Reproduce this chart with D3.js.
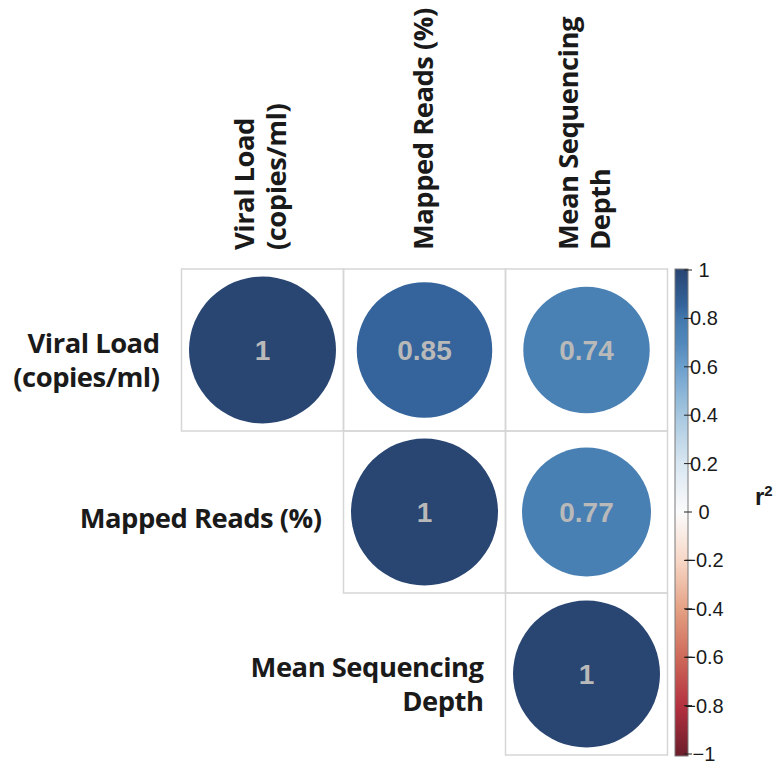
<!DOCTYPE html>
<html>
<head>
<meta charset="utf-8">
<script src="https://cdn.jsdelivr.net/npm/d3@7"></script>
<style>
  body { margin: 0; background: #fff; }
  svg { display: block; }
</style>
</head>
<body>
<div id="chart"></div>
<script>
// variables (rows / columns), label lines as in the figure
var varKeys = ["viral", "mapped", "depth"];
var rowLabels = [["Viral Load", "(copies/ml)"], ["Mapped Reads (%)"], ["Mean Sequencing", "Depth"]];
var colLabels = [["Viral Load", "(copies/ml)"], ["Mapped Reads (%)"], ["Mean Sequencing", "Depth"]];

// upper triangle of r^2 matrix (null = not drawn)
var corrRows = [
       [1, 0.85, 0.74],
       [null, 1, 0.77],
       [null, null, 1]
];

// colour bar ticks and palette stops
var legendTicks = [1, 0.8, 0.6, 0.4, 0.2, 0, -0.2, -0.4, -0.6, -0.8, -1];
var paletteStops = [-1, -0.8, -0.6, -0.4, -0.2, 0, 0.2, 0.4, 0.6, 0.72, 0.78, 0.85, 1];
var paletteColours = ["#6b1d2b", "#b3303f", "#cd6858", "#e4a083", "#f7d7c6", "#fbfbfb",
                      "#d9e7f1", "#a6c7df", "#6b9fcd", "#4b82b6", "#497fb3", "#34649b", "#294572"];

var W = 776, H = 765;
var svg = d3.select("#chart").append("svg")
       .attr("width", W)
       .attr("height", H);

var x = d3.scaleBand().domain(varKeys).range([181.5, 667.5]);
var y = d3.scaleBand().domain(varKeys).range([269, 755]);
var r = d3.scaleSqrt().domain([0, 1]).range([0, 73.5]);
var colour = d3.scaleLinear().domain(paletteStops).range(paletteColours);

// flatten into cells
var cells = [];
corrRows.forEach(function (row, i) {
       row.forEach(function (v, j) {
              if (v !== null) cells.push({ row: varKeys[i], col: varKeys[j], value: v });
       });
});

// cell borders
svg.append("g").selectAll("rect")
       .data(cells)
       .enter()
       .append("rect")
       .attr("x", function (d) { return x(d.col); })
       .attr("y", function (d) { return y(d.row); })
       .attr("width", x.bandwidth())
       .attr("height", y.bandwidth())
       .style("fill", "none")
       .style("stroke", "#d6d6d6")
       .style("stroke-width", 1.5);

// circles
svg.append("g").selectAll("circle")
       .data(cells)
       .enter()
       .append("circle")
       .attr("cx", function (d) { return x(d.col) + x.bandwidth() / 2; })
       .attr("cy", function (d) { return y(d.row) + y.bandwidth() / 2; })
       .attr("r", function (d) { return r(Math.abs(d.value)); })
       .style("fill", function (d) { return colour(d.value); });

// values
svg.append("g").selectAll("text")
       .data(cells)
       .enter()
       .append("text")
       .attr("x", function (d) { return x(d.col) + x.bandwidth() / 2; })
       .attr("y", function (d) { return y(d.row) + y.bandwidth() / 2 + 10; })
       .attr("text-anchor", "middle")
       .style("font", "bold 28px 'Liberation Sans', Arial, sans-serif")
       .style("fill", "#b9b9b9")
       .text(function (d) { return d3.format("")(d.value); });

// row labels (right aligned, left of first drawn cell of the row)
var labelFont = "bold 27.4px 'Open Sans', Lato, sans-serif";
rowLabels.forEach(function (lines, i) {
       var key = varKeys[i];
       var cx = x(key) - 22;
       var cy = y(key) + y.bandwidth() / 2;
       var first = lines.length === 1 ? 16 : 3;
       var t = svg.append("text")
              .attr("text-anchor", "end")
              .style("font", labelFont)
              .style("letter-spacing", "-0.5px")
              .style("fill", "#1a1a1a");
       lines.forEach(function (l, k) {
              t.append("tspan")
                     .attr("x", cx)
                     .attr("y", cy + first + k * 34)
                     .text(l);
       });
});

// column labels (rotated)
colLabels.forEach(function (lines, j) {
       var key = varKeys[j];
       var cx = x(key) + x.bandwidth() / 2;
       var first = lines.length === 1 ? 8.5 : -9;
       lines.forEach(function (l, k) {
              var bx = cx + first + k * 32;
              svg.append("text")
                     .attr("transform", "translate(" + bx + ",250) rotate(-90)")
                     .attr("text-anchor", "start")
                     .style("font", labelFont)
                     .style("letter-spacing", "-0.5px")
                     .style("fill", "#1a1a1a")
                     .text(l);
       });
});

// colour bar
var barX = 675, barW = 13;
var ly = d3.scaleLinear().domain([-1, 1]).range([756, 269]);
var grad = svg.append("defs").append("linearGradient")
       .attr("id", "cbar")
       .attr("x1", 0).attr("y1", 1).attr("x2", 0).attr("y2", 0);
d3.range(0, 41).forEach(function (k) {
       var v = -1 + k * 0.05;
       grad.append("stop")
              .attr("offset", (k / 40 * 100) + "%")
              .attr("stop-color", colour(v));
});
svg.append("rect")
       .attr("x", barX)
       .attr("y", ly(1))
       .attr("width", barW)
       .attr("height", ly(-1) - ly(1))
       .style("fill", "url(#cbar)")
       .style("stroke", "#7a7a7a")
       .style("stroke-width", 1);

var tickY = d3.scaleLinear().domain([-1, 1]).range([754, 270]);
var lg = svg.append("g");
lg.selectAll("line")
       .data(legendTicks)
       .enter()
       .append("line")
       .attr("x1", barX + barW - 4)
       .attr("x2", barX + barW + 4)
       .attr("y1", function (d) { return tickY(d); })
       .attr("y2", function (d) { return tickY(d); })
       .style("stroke", "#222")
       .style("stroke-width", 1);
lg.selectAll("text")
       .data(legendTicks)
       .enter()
       .append("text")
       .attr("x", 704)
       .attr("y", function (d) { return tickY(d) + 7; })
       .attr("text-anchor", "middle")
       .style("font", "20px 'Liberation Sans', Arial, sans-serif")
       .style("fill", "#1a1a1a")
       .text(function (d) { return d < 0 ? "\u2212" + Math.abs(d) : String(d); });

// legend title
var rt = svg.append("text")
       .attr("x", 755)
       .attr("y", 505)
       .style("font", "bold 24px 'Liberation Sans', Arial, sans-serif")
       .style("fill", "#1a1a1a")
       .text("r");
rt.append("tspan")
       .attr("dy", -9)
       .style("font-size", "15px")
       .text("2");
</script>
</body>
</html>
